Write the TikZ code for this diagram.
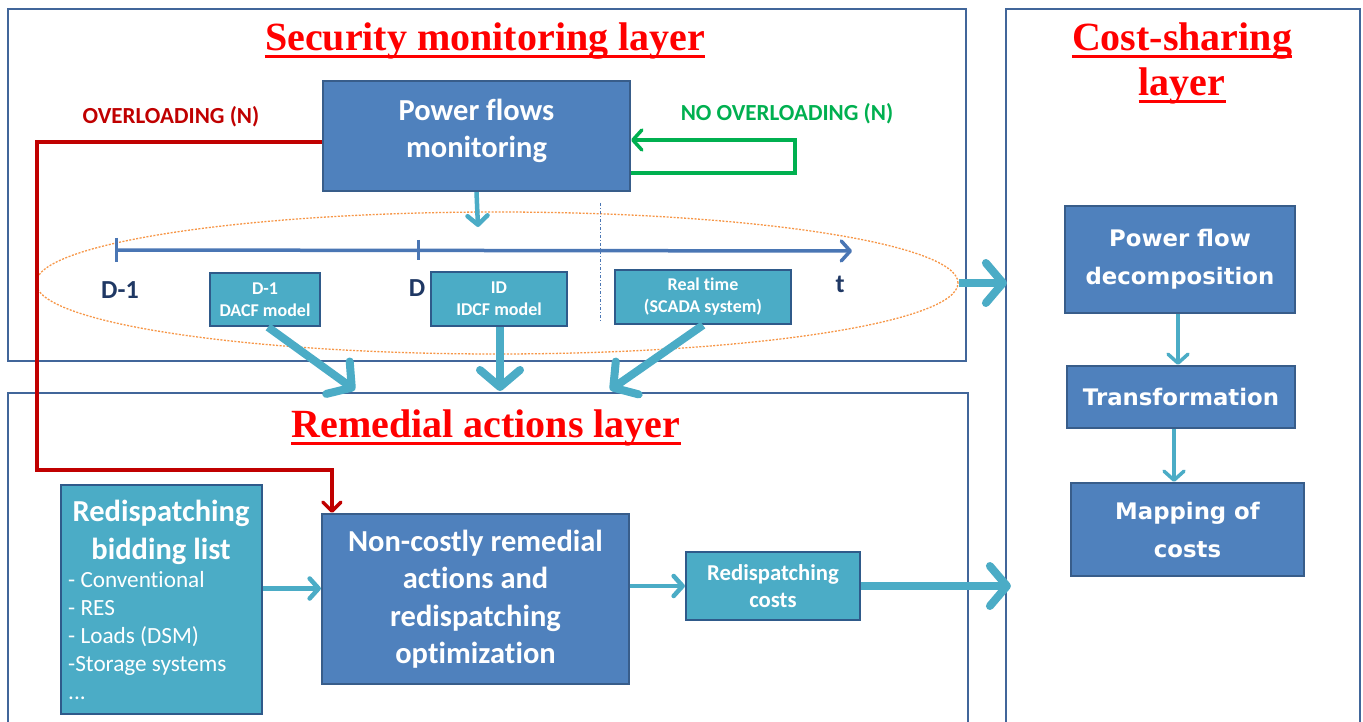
\documentclass[tikz,border=0pt]{standalone}
\usepackage{fontspec}
\setmainfont{Liberation Serif}
\newfontfamily\carl{Carlito}[Ligatures=NoCommon]
\newfontfamily\dvs{DejaVu Sans}
\usetikzlibrary{arrows.meta,shapes.geometric}
\definecolor{frameblue}{HTML}{41669A}
\definecolor{boxblue}{HTML}{4F81BD}
\definecolor{boxborder}{HTML}{385D8A}
\definecolor{tealc}{HTML}{4BACC6}
\definecolor{tealborder}{HTML}{2F5A8A}
\definecolor{darkred}{HTML}{C00000}
\definecolor{greenc}{HTML}{00B050}
\definecolor{orangec}{HTML}{F79646}
\definecolor{navyc}{HTML}{1F3864}
\definecolor{axisblue}{HTML}{4A76B4}
\begin{document}
\begin{tikzpicture}[x=1pt,y=-1pt,
  layerframe/.style={draw=frameblue, line width=2.2pt, inner sep=0},
  bluebox/.style={draw=boxborder, line width=2.2pt, fill=boxblue, text=white, align=center, inner sep=0},
  tealbox/.style={draw=tealborder, line width=2.2pt, fill=tealc, text=white, align=center, inner sep=0},
  bigtxt/.style={font=\carl\bfseries\fontsize{30.5}{37.5}\selectfont},
  smalltxt/.style={font=\carl\bfseries\fontsize{18}{22}\selectfont},
  costtxt/.style={font=\dvs\bfseries\fontsize{22.8}{38}\selectfont},
  layertitle/.style={text=red, font=\bfseries\fontsize{40}{44}\selectfont, inner sep=0},
  thinarrow/.style={draw=tealc, line width=4.5pt, -{Straight Barb[length=9pt,width=20pt,round]}},
  thickarrow/.style={draw=tealc, line width=8pt, -{Straight Barb[length=17pt,width=40pt,round]}},
  ulinestyle/.style={draw=red, line width=3pt}
]
\useasboundingbox (0,0) rectangle (1363,722);
\fill[white] (0,0) rectangle (1363,722);

% frames
\node[layerframe, minimum width=958pt, minimum height=352pt] (secf) at (487,185) {};
\node[layerframe, minimum width=960pt, minimum height=337pt] (remf) at (488,561.5) {};
\node[layerframe, minimum width=354pt, minimum height=721pt] (costf) at (1183,369.5) {};

% titles
\node[layertitle, anchor=base] (t1) at (485,51) {Security monitoring layer};
\draw[ulinestyle] ([yshift=-6pt]t1.base west) -- ([yshift=-6pt]t1.base east);
\node[layertitle, anchor=base] (t2) at (486,437) {Remedial actions layer};
\draw[ulinestyle] ([yshift=-6pt]t2.base west) -- ([yshift=-6pt]t2.base east);
\node[layertitle, anchor=base] (t3a) at (1182,51) {Cost-sharing};
\draw[ulinestyle] ([yshift=-6pt]t3a.base west) -- ([yshift=-6pt]t3a.base east);
\node[layertitle, anchor=base] (t3b) at (1182,96) {layer};
\draw[ulinestyle] ([yshift=-6pt]t3b.base west) -- ([yshift=-6pt]t3b.base east);

% security monitoring layer
\node[bluebox, bigtxt, minimum width=307pt, minimum height=110pt] (pfm) at (476.5,136) {Power flows\\monitoring\\[-22pt]};
\node[text=darkred, font=\carl\bfseries\fontsize{23}{27}\selectfont] (ovl) at (171,117) {OVERLOADING (N)};
\node[text=greenc, font=\carl\bfseries\fontsize{23}{27}\selectfont] (novl) at (787,114) {NO OVERLOADING (N)};

\coordinate (g1) at (795,156);
\draw[greenc, line width=3.5pt, -{Straight Barb[length=9pt,width=20pt,round]}]
  ([yshift=-37pt]pfm.east) -| (g1) |- ([yshift=-4pt]pfm.east);

\node[draw=orangec, dashed, dash pattern=on 2pt off 1.5pt, line width=1.3pt, ellipse, minimum width=922pt, minimum height=142pt, inner sep=0] (ell) at (497,283) {};

\coordinate (pfmend) at (478,227);
\draw[thinarrow] (pfm.south) -- (pfmend);

\coordinate (tl0) at (116,250);
\coordinate (tl1) at (852,251);
\draw[axisblue, line width=3.5pt, -{Straight Barb[length=9pt,width=20pt,round]}] (tl0) -- (tl1);
\coordinate (tk0a) at (116,238); \coordinate (tk0b) at (116,262);
\coordinate (tk1a) at (418,240); \coordinate (tk1b) at (418,260);
\draw[axisblue, line width=3pt] (tk0a) -- (tk0b);
\draw[axisblue, line width=3pt] (tk1a) -- (tk1b);
\coordinate (dd0) at (600,203); \coordinate (dd1) at (600,322);
\draw[axisblue, line width=1pt, dash dot] (dd0) -- (dd1);

\node[text=navyc, font=\carl\bfseries\fontsize{26}{30}\selectfont] (lD1) at (120,290) {D-1};
\node[text=navyc, font=\carl\bfseries\fontsize{26}{30}\selectfont] (lD) at (417,288) {D};
\node[text=navyc, font=\carl\bfseries\fontsize{26}{30}\selectfont] (lt) at (840,284) {t};

\node[tealbox, smalltxt, minimum width=110pt, minimum height=53pt] (dacf) at (265,299.5) {D-1\\DACF model};
\node[tealbox, smalltxt, minimum width=136pt, minimum height=54pt] (idcf) at (499,299) {ID\\IDCF model};
\node[tealbox, smalltxt, minimum width=176pt, minimum height=54pt] (scada) at (703,297) {Real time\\(SCADA system)};

\coordinate (a1e) at (355,390);
\coordinate (a2e) at (500,391);
\coordinate (a3e) at (610,390);
\draw[thickarrow] ([xshift=3pt]dacf.south) -- (a1e);
\draw[thickarrow] ([xshift=1pt]idcf.south) -- (a2e);
\draw[thickarrow] (scada.south) -- (a3e);

\draw[thickarrow] (ell.east) -- ([xshift=2pt]ell.east -| costf.west);

% remedial actions layer
\node[tealbox, minimum width=201pt, minimum height=229pt] (bid) at (161.5,599.5) {};
\node[text=white, align=center, font=\carl\bfseries\fontsize{30.5}{38}\selectfont] (bidt) at (161,532) {Redispatching\\bidding list};
\node[text=white, align=left, anchor=north west, inner sep=0, font=\carl\fontsize{23.2}{28}\selectfont] (bidl) at (68,571) {- Conventional\\- RES\\- Loads (DSM)\\-Storage systems\\...};

\node[bluebox, bigtxt, minimum width=307pt, minimum height=170pt] (nc) at (475.5,599) {Non-costly remedial\\actions and\\redispatching\\optimization};
\node[tealbox, font=\carl\bfseries\fontsize{22.7}{27}\selectfont, minimum width=174pt, minimum height=68pt] (rc) at (773,586) {Redispatching\\costs};

\draw[thinarrow] ([yshift=11pt]bid.east) -- ([yshift=11pt]bid.east -| nc.west);
\draw[thinarrow] (nc.east |- rc.west) -- (rc.west);
\draw[thickarrow] (rc.east) -- ([xshift=6pt]rc.east -| costf.west);

\coordinate (r1) at (37,470);
\draw[darkred, line width=3.5pt, -{Straight Barb[length=9pt,width=18pt,round]}]
  ([yshift=-6pt]pfm.west) -| (r1) -| ([xshift=11pt]nc.north west);

% cost-sharing layer
\node[bluebox, costtxt, minimum width=230pt, minimum height=107pt] (pfd) at (1180,259.5) {Power flow\\decomposition};
\node[bluebox, costtxt, minimum width=228pt, minimum height=62pt] (tr) at (1181,397) {Transformation};
\node[bluebox, costtxt, minimum width=233pt, minimum height=93pt] (map) at (1187.5,529.5) {Mapping of\\costs};
\draw[thinarrow, line width=3.5pt] ([xshift=-2pt]pfd.south) -- ([xshift=-2pt]pfd.south |- tr.north);
\draw[thinarrow, line width=3.5pt] ([xshift=-7pt]tr.south) -- ([xshift=-7pt]tr.south |- map.north);
\end{tikzpicture}
\end{document}
